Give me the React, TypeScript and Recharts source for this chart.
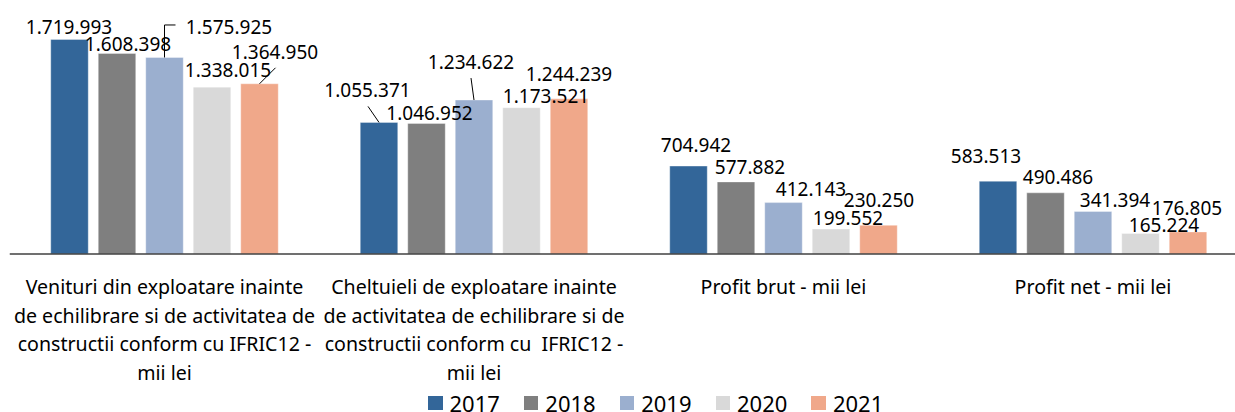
import React from "react";
import { BarChart, Bar, XAxis, YAxis, LabelList } from "recharts";

const categories: string[] = [
  "Venituri din exploatare inainte\nde echilibrare si de activitatea de\nconstructii conform cu IFRIC12 -\nmii lei",
  "Cheltuieli de exploatare inainte\nde activitatea de echilibrare si de\nconstructii conform cu  IFRIC12 -\nmii lei",
  "Profit brut - mii lei",
  "Profit net - mii lei",
];

const years: string[] = ["2017", "2018", "2019", "2020", "2021"];

const values2017: number[] = [1719993, 1055371, 704942, 583513];
const values2018: number[] = [1608398, 1046952, 577882, 490486];
const values2019: number[] = [1575925, 1234622, 412143, 341394];
const values2020: number[] = [1338015, 1173521, 199552, 165224];
const values2021: number[] = [1364950, 1244239, 230250, 176805];

const seriesValues: number[][] = [values2017, values2018, values2019, values2020, values2021];
const colors: string[] = ["#336699", "#7F7F7F", "#9BAFCF", "#D9D9D9", "#F0A88A"];

// label placement tweaks (dx from bar centre, dy of baseline from bar top)
const labelOffsets: [number, number][][] = [
  [[-0.5, -6], [-11.5, -25], [7.5, -14.5], [-12, -18.5]],
  [[11, -2.7], [3, -3.4], [14, -8], [12.5, -8.8]],
  [[64.5, -23.5], [-3, -30.7], [27.5, -7], [22, -4.7]],
  [[16, -9.8], [24.5, -5], [17, -4.1], [23.5, -1.7]],
  [[15.5, -24.5], [0, -18], [0.5, -18], [-1, -17]],
];

// leader lines (points relative to bar top centre)
const leaders: (number[][] | null)[][] = [
  [null, [[0, 0], [-11, -16]], null, null],
  [null, null, null, null],
  [[[0, 0], [0, -32.5], [11, -32.5]], [[0, 0], [-3, -22]], null, null],
  [null, null, null, null],
  [[[0, 0], [16, -16]], null, null, null],
];

const data = categories.map((c, i) => {
  const row: Record<string, string | number> = { category: c };
  years.forEach((y, s) => {
    row[y] = seriesValues[s][i];
  });
  return row;
});

const fmt = (v: number) => String(Math.round(v)).replace(/\B(?=(\d{3})+(?!\d))/g, ".");

const FONT = "'Noto Sans', 'DejaVu Sans', sans-serif";

const makeLabel = (s: number) => (props: any) => {
  const { x, y, width, value, index } = props;
  const cx = Number(x) + Number(width) / 2;
  const top = Number(y);
  const [dx, dy] = labelOffsets[s][index] || [0, -6];
  const leader = leaders[s][index];
  return (
    <g>
      {leader && (
        <polyline
          points={leader.map((p) => `${cx + p[0]},${top + p[1]}`).join(" ")}
          fill="none"
          stroke="#000"
          strokeWidth={1}
        />
      )}
      <text
        x={cx + dx}
        y={top + dy}
        textAnchor="middle"
        fontSize={19}
        fontFamily={FONT}
        fill="#000"
      >
        {fmt(Number(value))}
      </text>
    </g>
  );
};

const CategoryTick = (props: any) => {
  const { x, y, payload } = props;
  const lines = String(payload.value).split("\n");
  return (
    <g>
      <text
        textAnchor="middle"
        fontSize={19.6}
        fontFamily={FONT}
        fill="#000"
        style={{ whiteSpace: "pre" }}
      >
        {lines.map((l, i) => (
          <tspan key={i} x={x} y={y + 40 + i * 28.5}>
            {l}
          </tspan>
        ))}
      </text>
    </g>
  );
};

export default function App() {
  return (
    <div
      style={{
        position: "absolute",
        left: 0,
        top: 0,
        width: 1235,
        height: 412,
        overflow: "hidden",
        background: "#fff",
      }}
    >
      <BarChart
        width={1250}
        height={412}
        data={data}
        margin={{ top: 4.6, right: 2.25, left: 9.75, bottom: 28 }}
        barGap={10}
        barSize={37.5}
      >
        <YAxis hide domain={[0, 2000000]} type="number" />
        <XAxis
          dataKey="category"
          height={130}
          interval={0}
          tickLine={false}
          tickSize={0}
          tickMargin={0}
          axisLine={{ stroke: "#404040", strokeWidth: 1.5 }}
          tick={<CategoryTick />}
        />
        {years.map((y, s) => (
          <Bar
            key={y}
            dataKey={y}
            fill={colors[s]}
            stroke="#ffffff"
            strokeOpacity={0.35}
            strokeWidth={1}
            isAnimationActive={false}
          >
            <LabelList dataKey={y} content={makeLabel(s)} />
          </Bar>
        ))}
      </BarChart>
      <div
        style={{
          position: "absolute",
          left: 428,
          top: 394,
          height: 18,
          display: "flex",
          alignItems: "center",
          fontFamily: FONT,
          fontSize: 22,
          color: "#000",
          lineHeight: "18px",
        }}
      >
        {years.map((y, s) => (
          <div key={y} style={{ display: "flex", alignItems: "center", marginRight: 24 }}>
            <div style={{ width: 14.5, height: 14.5, background: colors[s], marginRight: 7 }} />
            <span style={{ whiteSpace: "nowrap" }}>{y}</span>
          </div>
        ))}
      </div>
    </div>
  );
}
